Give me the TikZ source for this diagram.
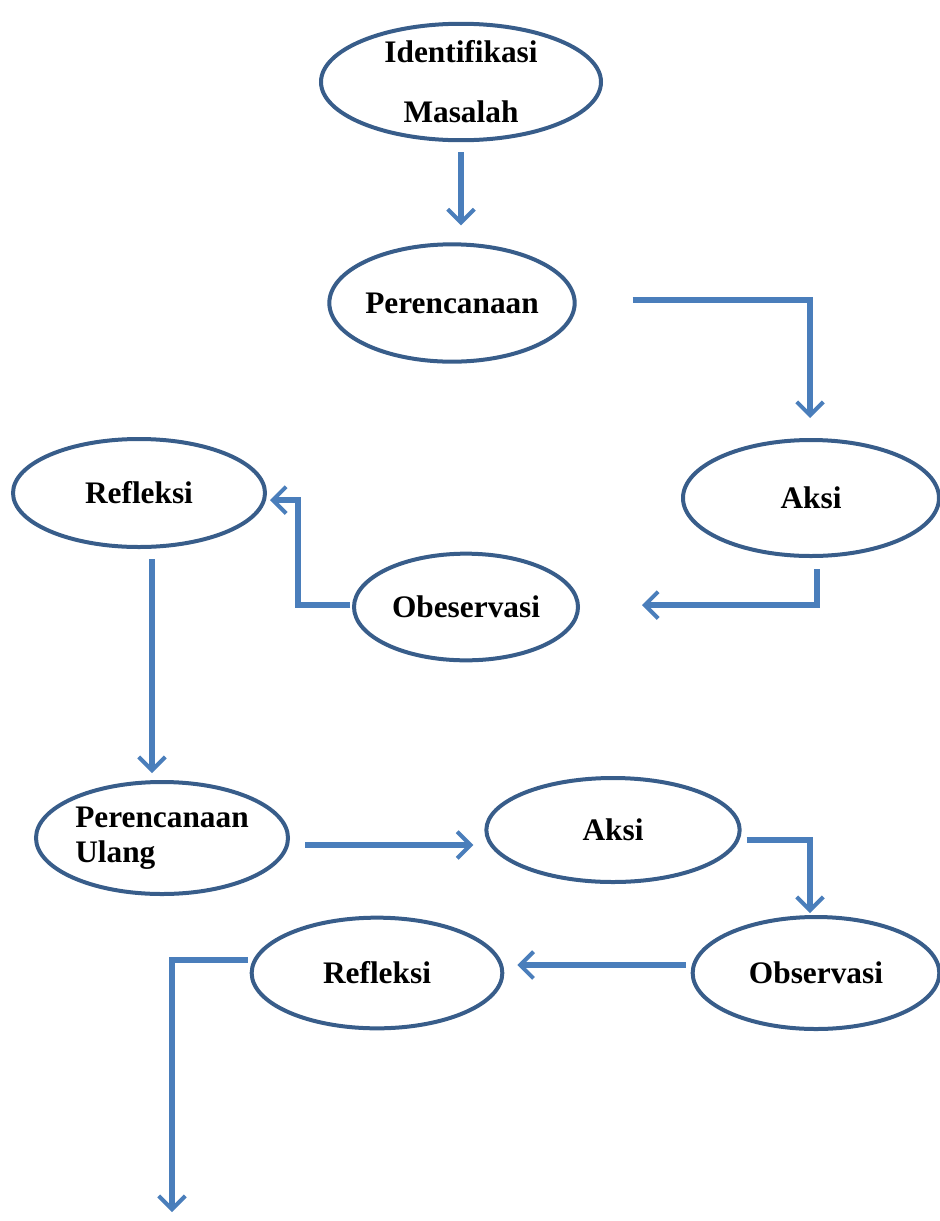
\documentclass[tikz,border=0pt]{standalone}
\usepackage{fontspec}
\setmainfont{Liberation Serif}
\usetikzlibrary{shapes.geometric}
\usetikzlibrary{arrows.meta}
\usetikzlibrary{calc}
\definecolor{ringblue}{HTML}{385D8A}
\definecolor{arrowblue}{HTML}{4A7EBB}
\tikzset{
  stage/.style={ellipse, draw=ringblue, line width=3pt, inner sep=0pt,
    font=\fontsize{23.5}{28}\selectfont\bfseries},
  flow/.style={draw=arrowblue, line width=4.2pt,
    -{Straight Barb[length=10pt,width=20pt,line width=3pt]}},
}

\begin{document}
\begin{tikzpicture}[x=0.75pt,y=-0.75pt]
  \useasboundingbox (0,0) rectangle (939,1221);
  % stages
  \node[stage, minimum width=210pt, minimum height=87pt, align=center,
        font=\fontsize{23.5}{45}\selectfont\bfseries] (ident) at (461,82) {Identifikasi\\Masalah};
  \node[stage, minimum width=171pt, minimum height=88pt] (pere) at (452,303) {Perencanaan};
  \node[stage, minimum width=192pt, minimum height=87pt] (aksi1) at (811,498) {Aksi};
  \node[stage, minimum width=189pt, minimum height=81pt] (refl1) at (139,493) {Refleksi};
  \node[stage, minimum width=168pt, minimum height=80pt] (obs1) at (466,607) {Obeservasi};
  \node[stage, minimum width=189pt, minimum height=84pt, align=left,
        font=\fontsize{23.5}{26}\selectfont\bfseries] (peru) at (162,838) {Perencanaan\\Ulang};
  \node[stage, minimum width=190pt, minimum height=78pt] (aksi2) at (613,830) {Aksi};
  \node[stage, minimum width=185pt, minimum height=84pt] (obs2) at (816,973) {Observasi};
  \node[stage, minimum width=188pt, minimum height=83pt] (refl2) at (377,973) {Refleksi};
  \coordinate (exit) at (172,1212);
  % connectors
  \draw[flow] ($(ident.south)+(0,10)$) -- ($(pere.north)+(9,-17)$);
  \draw[flow] ($(pere.east)+(56,-3)$) -| ($(aksi1.north)+(-1,-20)$);
  \draw[flow] ($(aksi1.south)+(6,11)$) |- ($(obs1.east)+(62,-2)$);
  \draw[flow] ($(obs1.west)+(-2,-2)$) -- ++(-52,0) |- ($(refl1.east)+(3,7)$);
  \draw[flow] ($(refl1.south)+(13,10)$) -- ($(peru.north)+(-10,-7)$);
  \draw[flow] ($(peru.east)+(15,7)$) -- ($(aksi2.west)+(-11,15)$);
  \draw[flow] ($(aksi2.east)+(5,10)$) -| ($(obs2.north)+(-6,-2)$);
  \draw[flow] ($(obs2.west)+(-5,-8)$) -- ($(refl2.east)+(13,-8)$);
  \draw[flow] ($(refl2.west)+(-2,-13)$) -| (exit);
\end{tikzpicture}
\end{document}
